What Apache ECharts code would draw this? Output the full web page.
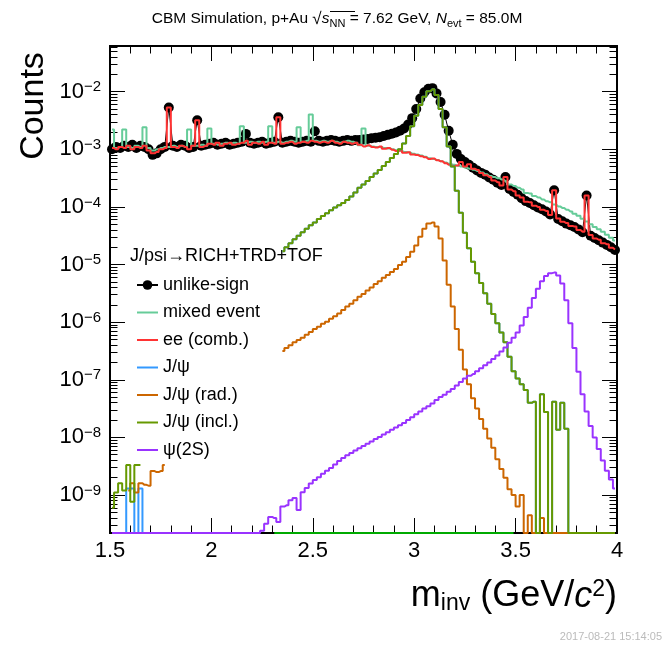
<!DOCTYPE html>
<html><head><meta charset="utf-8">
<script src="https://cdn.jsdelivr.net/npm/echarts@6/dist/echarts.min.js"></script>
<style>html,body{margin:0;padding:0;background:#fff}#c{width:665px;height:646px}</style>
</head><body><div id="c"></div><script>
// ---------- data (histogram bins, width 0.02 GeV/c^2, values are counts; 0 = empty bin) ----------
const BIN = 0.02;
const xTickLabels = ['1.5', '2', '2.5', '3', '3.5', '4'];
const yTickExponents = [-9, -8, -7, -6, -5, -4, -3, -2];

const unlikeStart = 1.51;
const unlikeSign = [
 1.00e-3,1.10e-3,1.05e-3,1.15e-3,1.10e-3,1.20e-3,1.05e-3,1.15e-3,1.10e-3,1.00e-3,
 0.80e-3,0.85e-3,1.00e-3,1.10e-3,5.3e-3,1.15e-3,1.10e-3,1.20e-3,1.15e-3,1.05e-3,
 1.10e-3,3.2e-3,1.15e-3,1.20e-3,1.25e-3,1.30e-3,1.20e-3,1.25e-3,1.30e-3,1.20e-3,
 1.25e-3,1.30e-3,1.35e-3,1.85e-3,1.30e-3,1.25e-3,1.30e-3,1.35e-3,1.25e-3,1.30e-3,
 1.35e-3,3.6e-3,1.30e-3,1.35e-3,1.40e-3,1.35e-3,1.30e-3,1.35e-3,1.40e-3,1.35e-3,
 2.05e-3,1.40e-3,1.35e-3,1.40e-3,1.45e-3,1.40e-3,1.35e-3,1.40e-3,1.45e-3,1.40e-3,
 1.45e-3,
 1.45e-3,1.48e-3,1.51e-3,1.55e-3,1.58e-3,1.62e-3,1.70e-3,1.78e-3,1.86e-3,1.95e-3,
 2.09e-3,2.29e-3,2.69e-3,3.47e-3,5.01e-3,7.59e-3,9.77e-3,1.12e-2,1.15e-2,9.33e-3,
 6.61e-3,3.98e-3,2.09e-3,1.20e-3,8.32e-4,6.76e-4,6.03e-4,5.37e-4,4.79e-4,4.27e-4,
 3.89e-4,3.63e-4,3.24e-4,2.95e-4,2.63e-4,2.40e-4,3.31e-4,2.04e-4,1.82e-4,1.62e-4,
 1.41e-4,1.26e-4,1.17e-4,1.07e-4,9.77e-5,9.12e-5,8.32e-5,7.41e-5,1.95e-4,6.17e-5,
 5.62e-5,5.13e-5,4.79e-5,4.47e-5,4.07e-5,3.63e-5,1.58e-4,3.16e-5,2.88e-5,2.63e-5,
 2.40e-5,2.19e-5,2.00e-5,1.78e-5
];

const mixedStart = 1.51;
const mixedEvent = [
 2.2e-3,1.05e-3,1.10e-3,2.2e-3,1.10e-3,1.05e-3,1.15e-3,1.10e-3,2.4e-3,1.05e-3,
 0.95e-3,1.00e-3,1.05e-3,1.10e-3,1.10e-3,1.15e-3,1.10e-3,1.15e-3,1.10e-3,2.2e-3,
 1.15e-3,1.15e-3,1.20e-3,1.15e-3,2.3e-3,1.25e-3,1.20e-3,1.25e-3,1.30e-3,1.25e-3,
 1.30e-3,1.25e-3,2.5e-3,1.30e-3,1.35e-3,1.30e-3,1.35e-3,1.30e-3,1.35e-3,2.5e-3,
 1.30e-3,1.35e-3,1.30e-3,1.35e-3,1.40e-3,1.35e-3,2.4e-3,1.35e-3,1.40e-3,4.0e-3,
 1.40e-3,1.35e-3,1.40e-3,1.35e-3,1.40e-3,1.35e-3,1.30e-3,1.35e-3,1.40e-3,1.35e-3,
 1.30e-3,
 1.18e-3,2.3e-3,1.15e-3,1.12e-3,1.10e-3,1.10e-3,1.05e-3,1.03e-3,1.00e-3,9.6e-4,
 9.4e-4,9.0e-4,8.8e-4,8.4e-4,8.1e-4,7.8e-4,7.4e-4,7.0e-4,6.8e-4,6.5e-4,
 6.2e-4,5.9e-4,5.6e-4,5.4e-4,5.2e-4,5.0e-4,4.8e-4,4.6e-4,4.4e-4,4.2e-4,
 3.95e-4,3.7e-4,3.45e-4,3.3e-4,3.15e-4,3.0e-4,2.8e-4,2.45e-4,2.3e-4,2.15e-4,
 2.0e-4,1.75e-4,1.7e-4,1.55e-4,1.45e-4,1.35e-4,1.25e-4,1.2e-4,1.1e-4,1.02e-4,
 9.6e-5,8.9e-5,8.3e-5,7.6e-5,7.0e-5,6.2e-5,5.6e-5,5.0e-5,4.5e-5,4.1e-5,
 3.7e-5,3.3e-5,2.9e-5,2.6e-5
];

const eeStart = 1.51;
const eeComb = [
 1.05e-3,1.00e-3,1.10e-3,1.05e-3,1.15e-3,1.00e-3,1.10e-3,1.05e-3,1.15e-3,0.95e-3,
 0.85e-3,0.90e-3,1.00e-3,1.05e-3,5.3e-3,1.10e-3,1.05e-3,1.15e-3,1.10e-3,1.00e-3,
 1.15e-3,3.2e-3,1.10e-3,1.15e-3,1.25e-3,1.20e-3,1.30e-3,1.15e-3,1.25e-3,1.30e-3,
 1.20e-3,1.25e-3,1.30e-3,1.40e-3,1.20e-3,1.30e-3,1.25e-3,1.35e-3,1.20e-3,1.30e-3,
 1.25e-3,3.6e-3,1.25e-3,1.30e-3,1.35e-3,1.25e-3,1.30e-3,1.35e-3,1.30e-3,1.40e-3,
 1.35e-3,1.30e-3,1.35e-3,1.30e-3,1.40e-3,1.30e-3,1.25e-3,1.35e-3,1.30e-3,1.25e-3,
 1.30e-3,
 1.20e-3,1.12e-3,1.17e-3,1.10e-3,1.07e-3,1.12e-3,1.02e-3,1.05e-3,9.77e-4,9.33e-4,
 9.55e-4,8.71e-4,8.91e-4,8.13e-4,7.94e-4,7.59e-4,7.24e-4,6.76e-4,6.92e-4,6.46e-4,
 6.17e-4,5.75e-4,5.37e-4,5.13e-4,5.25e-4,6.03e-4,5.01e-4,5.50e-4,4.57e-4,4.37e-4,
 3.89e-4,3.55e-4,3.31e-4,2.88e-4,2.69e-4,2.34e-4,3.31e-4,2.00e-4,1.86e-4,1.58e-4,
 1.45e-4,1.23e-4,1.20e-4,1.05e-4,1.00e-4,8.91e-5,8.51e-5,7.24e-5,1.95e-4,6.31e-5,
 5.50e-5,5.25e-5,4.68e-5,4.57e-5,3.98e-5,3.72e-5,1.58e-4,3.24e-5,2.82e-5,2.69e-5,
 2.34e-5,2.24e-5,1.95e-5,1.82e-5
];

// J/psi (signal) -- low-mass stray bins and main peak
const jpsiLowStart = 1.57;
const jpsiLow = [0, 1.3e-9, 1.3e-9, 0, 1.3e-9, 0];
const jpsiStart = 2.35;
const jpsi = [
 1.70e-5,2.0e-5,2.34e-5,2.75e-5,3.16e-5,3.63e-5,4.17e-5,4.79e-5,5.37e-5,6.17e-5,
 6.92e-5,7.76e-5,8.71e-5,9.77e-5,1.07e-4,1.17e-4,1.32e-4,1.51e-4,1.78e-4,2.14e-4,
 2.45e-4,2.82e-4,3.31e-4,3.80e-4,4.37e-4,5.13e-4,6.03e-4,7.08e-4,8.32e-4,1.0e-3,
 1.26e-3,1.70e-3,2.51e-3,3.80e-3,5.89e-3,8.13e-3,1.02e-2,1.10e-2,8.71e-3,5.01e-3,
 2.40e-3,1.12e-3,5.01e-4,1.91e-4,7.94e-5,3.55e-5,1.91e-5,1.12e-5,7.08e-6,4.79e-6,
 3.16e-6,2.09e-6,1.38e-6,9.55e-7,6.61e-7,4.47e-7,2.51e-7,1.41e-7,1.05e-7,8.32e-8,
 6.61e-8,3.98e-8,4.17e-8,0,5.62e-8,2.75e-8,0,4.17e-8,1.35e-8,3.98e-8,
 1.41e-8,0,0,0,0,0,0,0,0,0,0,0,0
];

// J/psi radiative tail
const jpsiRadLowStart = 1.59;
const jpsiRadLow = [1.2e-9,1.6e-9,1.1e-9,1.6e-9,1.5e-9,1.45e-9,2.6e-9,2.5e-9,2.6e-9,3.3e-9];
const jpsiRadStart = 2.35;
const jpsiRad = [
 3.16e-7,3.55e-7,3.98e-7,4.47e-7,4.90e-7,5.37e-7,6.03e-7,6.76e-7,7.59e-7,8.32e-7,
 9.33e-7,1.02e-6,1.15e-6,1.26e-6,1.41e-6,1.62e-6,1.86e-6,2.09e-6,2.40e-6,2.75e-6,
 3.09e-6,3.55e-6,3.98e-6,4.57e-6,5.13e-6,5.89e-6,6.61e-6,7.41e-6,8.32e-6,9.77e-6,
 1.12e-5,1.35e-5,1.66e-5,2.14e-5,3.02e-5,4.17e-5,5.13e-5,5.37e-5,4.57e-5,2.82e-5,
 1.17e-5,4.47e-6,1.86e-6,7.59e-7,3.31e-7,1.51e-7,8.32e-8,4.79e-8,3.16e-8,2.09e-8,
 1.41e-8,9.55e-9,6.61e-9,4.17e-9,2.82e-9,2.0e-9,1.26e-9,1.0e-9,6.3e-10,1.0e-9,
 0,4.47e-10,0,0,3.98e-10,0,0,0,0,0,
 0,0,0,0,0,0,0,0,0,0,0,0,0
];

// J/psi inclusive
const jpsiInclLowStart = 1.51;
const jpsiInclLow = [6.0e-10,1.1e-9,1.6e-9,1.2e-9,3.3e-9,7.6e-10,3.3e-9,3.3e-9];
const jpsiInclStart = 2.35;
const jpsiIncl = [
 1.70e-5,2.0e-5,2.34e-5,2.75e-5,3.16e-5,3.63e-5,4.17e-5,4.79e-5,5.37e-5,6.17e-5,
 6.92e-5,7.76e-5,8.71e-5,9.77e-5,1.07e-4,1.17e-4,1.32e-4,1.51e-4,1.78e-4,2.14e-4,
 2.45e-4,2.82e-4,3.31e-4,3.80e-4,4.37e-4,5.13e-4,6.03e-4,7.08e-4,8.32e-4,1.0e-3,
 1.26e-3,1.70e-3,2.51e-3,3.80e-3,5.89e-3,8.13e-3,1.02e-2,1.10e-2,8.71e-3,5.01e-3,
 2.40e-3,1.12e-3,5.01e-4,1.91e-4,7.94e-5,3.55e-5,1.91e-5,1.12e-5,7.08e-6,4.79e-6,
 3.16e-6,2.09e-6,1.38e-6,9.55e-7,6.61e-7,4.47e-7,2.51e-7,1.41e-7,1.05e-7,8.32e-8,
 6.61e-8,3.98e-8,4.17e-8,0,5.62e-8,2.75e-8,0,4.17e-8,1.35e-8,3.98e-8,
 1.41e-8,0,0,0,0,0,0,0,0,0,0,0,0
];

// psi(2S)
const psi2SStart = 1.51;
const psi2S = [
 0,0,0,0,0,0,0,0,0,0, 0,0,0,0,0,0,0,0,0,0, 0,0,0,0,0,0,0,0,0,0, 0,0,0,0,0,0,0,
 2.40e-10,3.16e-10,4.17e-10,3.98e-10,3.39e-10,6.31e-10,6.61e-10,8.13e-10,8.91e-10,5.50e-10,
 1.12e-9,1.32e-9,1.58e-9,1.82e-9,2.04e-9,2.34e-9,2.63e-9,2.95e-9,3.39e-9,3.89e-9,
 4.37e-9,4.90e-9,5.37e-9,5.89e-9,6.46e-9,7.08e-9,7.76e-9,8.51e-9,9.33e-9,1.02e-8,
 1.12e-8,1.23e-8,1.35e-8,1.48e-8,1.62e-8,1.78e-8,2.0e-8,2.24e-8,2.51e-8,2.82e-8,
 3.16e-8,3.47e-8,3.89e-8,4.47e-8,5.01e-8,5.50e-8,6.17e-8,6.92e-8,7.94e-8,9.12e-8,
 1.05e-7,1.17e-7,1.26e-7,1.41e-7,1.58e-7,1.78e-7,2.0e-7,2.29e-7,2.63e-7,3.09e-7,
 3.63e-7,4.37e-7,5.37e-7,6.61e-7,8.71e-7,1.23e-6,1.78e-6,2.63e-6,3.80e-6,5.13e-6,
 6.31e-6,7.08e-6,7.24e-6,6.46e-6,4.68e-6,2.40e-6,9.55e-7,3.55e-7,1.38e-7,5.62e-8,
 2.82e-8,1.58e-8,1.0e-8,6.31e-9,3.98e-9,2.63e-9,1.86e-9,1.29e-9
];

// an extra (empty) histogram that is drawn along the bottom of the frame, 2.31-3.47
const emptyHistStart = 2.31;
const emptyHist = [
 0,0,0,0,0,0,0,0,0,0, 0,0,0,0,0,0,0,0,0,0, 0,0,0,0,0,0,0,0,0,0,
 0,0,0,0,0,0,0,0,0,0, 0,0,0,0,0,0,0,0,0,0, 0,0,0,0,0,0,0,0,0,0
];

// ---------- chart ----------
const X_MIN = 1.5, X_MAX = 4.0;
const Y_MIN = Math.log10(2.19e-10), Y_MAX = Math.log10(6.2e-2);
const FONT = '"Liberation Sans", Arial, Helvetica, sans-serif';

function hist(start, vals) {
  return vals.map((v, i) => [Math.round((start + BIN * i) * 1000) / 1000, v > 0 ? Math.log10(v) : Y_MIN]);
}
const yMinor = [];
for (let n = -10; n <= -1; n++) for (let k = 2; k <= 9; k++) {
  const v = n + Math.log10(k);
  if (v > Y_MIN && v < Y_MAX) yMinor.push(v);
}
function xAxisDef(pos, labels) {
  return {
    type: 'value', position: pos, min: X_MIN, max: X_MAX, interval: 0.5,
    axisLine: { show: true, onZero: false, lineStyle: { color: '#000', width: 2 } },
    axisTick: { show: true, inside: true, length: 15, lineStyle: { color: '#000', width: 1 } },
    minorTick: { show: true, splitNumber: 5, length: 7.5, lineStyle: { color: '#000', width: 1 } },
    axisLabel: labels ? { show: true, fontSize: 22, fontFamily: FONT, color: '#000', margin: 7,
      formatter: v => xTickLabels[Math.round((v - X_MIN) / 0.5)] } : { show: false },
    splitLine: { show: false }
  };
}
function yAxisDef(pos, ticks, len, labels) {
  return {
    type: 'value', position: pos, min: Y_MIN, max: Y_MAX,
    axisLine: { show: true, onZero: false, lineStyle: { color: '#000', width: 2 } },
    axisTick: { show: true, inside: true, length: len, customValues: ticks, lineStyle: { color: '#000', width: 1 } },
    axisLabel: labels ? {
      show: true, customValues: yTickExponents, margin: 9, color: '#000', fontFamily: FONT,
      formatter: v => '{b|10}{s|\u2212' + Math.abs(Math.round(v)) + '}',
      rich: { b: { fontSize: 22, lineHeight: 24, fontFamily: FONT, color: '#000' },
              s: { fontSize: 15, lineHeight: 15, verticalAlign: 'top', fontFamily: FONT, color: '#000' } }
    } : { show: false },
    splitLine: { show: false }, minorTick: { show: false }
  };
}
function histSeries(name, start, vals, color) {
  return { type: 'line', name, data: hist(start, vals), step: 'middle', symbol: 'none', showSymbol: false,
    lineStyle: { color, width: 2 }, itemStyle: { color }, clip: false, silent: true, animation: false, z: 3 };
}
const C = { mixed: '#66cc99', ee: '#ff3333', jpsi: '#3399ff', rad: '#cc6600', incl: '#669900', psi: '#9933ff', empty: '#00aa00' };
const unlikeData = hist(unlikeStart, unlikeSign);

const series = [
  { type: 'line', name: 'unlike-sign', data: unlikeData, symbol: 'circle', symbolSize: 10, showSymbol: false,
    itemStyle: { color: '#000', opacity: 1 }, lineStyle: { color: '#000', width: 1 }, clip: false, silent: true, z: 1 },
  { type: 'scatter', name: 'unlike-sign', data: unlikeData, symbol: 'circle', symbolSize: 10,
    itemStyle: { color: '#000', opacity: 1 }, clip: false, silent: true, z: 1 },
  histSeries('mixed event', mixedStart, mixedEvent, C.mixed),
  histSeries('ee (comb.)', eeStart, eeComb, C.ee),
  histSeries('', emptyHistStart, emptyHist, C.empty),
  histSeries('J/\u03c8', jpsiStart, jpsi, C.jpsi),
  histSeries('J/\u03c8', jpsiLowStart, jpsiLow, C.jpsi),
  histSeries('J/\u03c8 (rad.)', jpsiRadStart, jpsiRad, C.rad),
  histSeries('J/\u03c8 (rad.)', jpsiRadLowStart, jpsiRadLow, C.rad),
  histSeries('J/\u03c8 (incl.)', jpsiInclStart, jpsiIncl, C.incl),
  histSeries('J/\u03c8 (incl.)', jpsiInclLowStart, jpsiInclLow, C.incl),
  histSeries('\u03c8(2S)', psi2SStart, psi2S, C.psi)
];
const LINE_ICON = 'path://M0,0H21V2H0Z';

const option = {
  animation: false,
  backgroundColor: '#fff',
  grid: { left: 110, right: 48, top: 46, bottom: 113, containLabel: false },
  xAxis: [xAxisDef('bottom', true), xAxisDef('top', false)],
  yAxis: [yAxisDef('left', yTickExponents, 15, true), yAxisDef('left', yMinor, 7.5, false),
          yAxisDef('right', yTickExponents, 15, false), yAxisDef('right', yMinor, 7.5, false)],
  legend: {
    orient: 'vertical', left: 131, top: 271, itemWidth: 21, itemHeight: 12, itemGap: 9.5,
    selectedMode: false, symbolKeepAspect: true,
    data: [
      { name: 'unlike-sign' },
      { name: 'mixed event', icon: LINE_ICON },
      { name: 'ee (comb.)', icon: LINE_ICON },
      { name: 'J/\u03c8', icon: LINE_ICON },
      { name: 'J/\u03c8 (rad.)', icon: LINE_ICON },
      { name: 'J/\u03c8 (incl.)', icon: LINE_ICON },
      { name: '\u03c8(2S)', icon: LINE_ICON }
    ],
    textStyle: { fontSize: 18, lineHeight: 18, color: '#000', fontFamily: FONT }
  },
  series,
  graphic: [
    { type: 'text', x: 337, y: 20, silent: true, style: {
      text: '{a|CBM Simulation, p+Au }{r|\u221a}{i|s}{sub|NN}{a| = 7.62 GeV, }{i|N}{sub|evt}{a| = 85.0M}',
      align: 'center', verticalAlign: 'middle',
      rich: { a: { fontSize: 15.5, lineHeight: 18, fontFamily: FONT, verticalAlign: 'top', fill: '#000' },
              r: { fontSize: 17, lineHeight: 18, fontFamily: FONT, verticalAlign: 'top', fill: '#000' },
              i: { fontSize: 15.5, lineHeight: 18, fontFamily: FONT, fontStyle: 'italic', verticalAlign: 'top', fill: '#000' },
              sub: { fontSize: 11, lineHeight: 11, padding: [11, 0, 0, 0], fontFamily: FONT, verticalAlign: 'bottom', fill: '#000' } } } },
    { type: 'line', silent: true, shape: { x1: 330, y1: 11.5, x2: 355, y2: 11.5 }, style: { stroke: '#000', lineWidth: 1 } },
    { type: 'text', x: 34, y: 106, rotation: Math.PI / 2, silent: true, style: {
      text: 'Counts', fontSize: 34, fontFamily: FONT, fill: '#000', align: 'center', verticalAlign: 'middle' } },
    { type: 'text', x: 617, y: 597, silent: true, style: {
      text: '{m|m}{sub|inv}{m| (GeV/}{c|c}{sup|2}{m|)}', align: 'right', verticalAlign: 'middle',
      rich: { m: { fontSize: 36, lineHeight: 37, fontFamily: FONT, verticalAlign: 'top', fill: '#000' },
              c: { fontSize: 36, lineHeight: 37, fontFamily: FONT, fontStyle: 'italic', verticalAlign: 'top', fill: '#000' },
              sub: { fontSize: 23, lineHeight: 23, padding: [20, 0, 0, 0], fontFamily: FONT, verticalAlign: 'bottom', fill: '#000' },
              sup: { fontSize: 23, lineHeight: 23, fontFamily: FONT, verticalAlign: 'top', fill: '#000' } } } },
    { type: 'text', x: 130, y: 256, silent: true, style: {
      text: 'J/psi\u2192RICH+TRD+TOF', fontSize: 18, fontFamily: FONT, fill: '#000', align: 'left', verticalAlign: 'middle' } },
    { type: 'text', x: 662, y: 637, silent: true, style: {
      text: '2017-08-21 15:14:05', fontSize: 11, fontFamily: FONT, fill: '#bbbbbb', align: 'right', verticalAlign: 'middle' } }
  ]
};
const chart = echarts.init(document.getElementById('c'), null, { renderer: 'canvas' });
chart.setOption(option);
</script></body></html>
